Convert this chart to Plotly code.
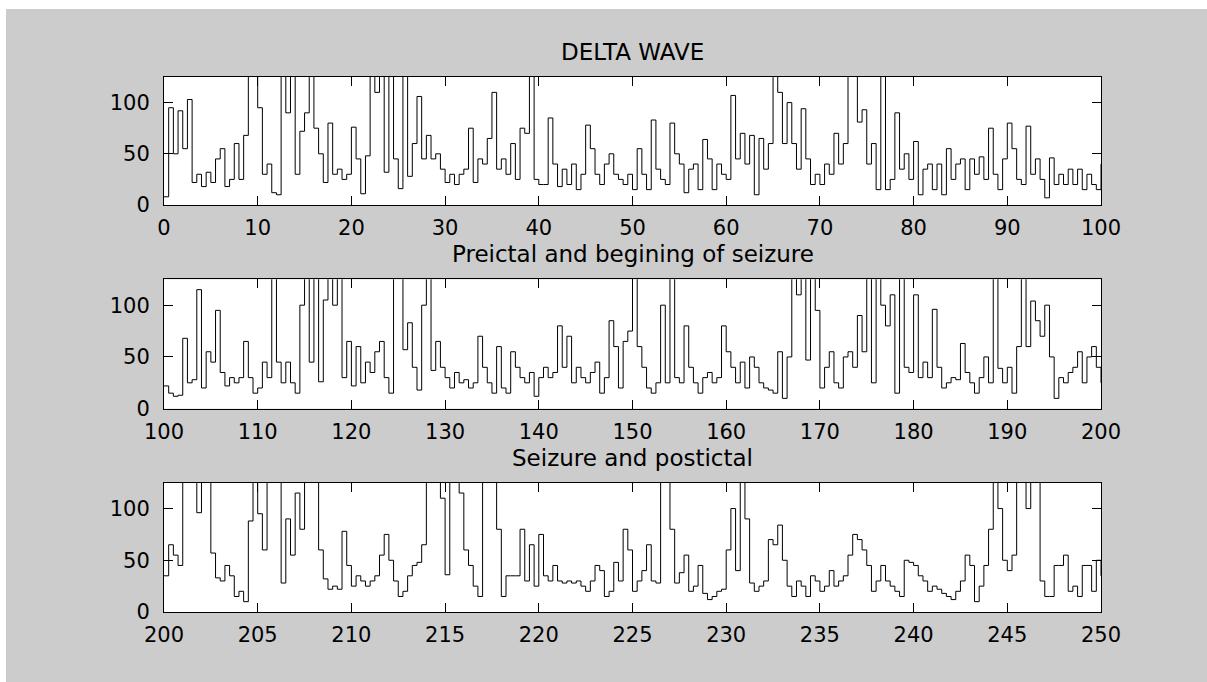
import numpy as np
import plotly.graph_objects as go
from plotly.subplots import make_subplots

# ---------------- data ----------------
titles = ["DELTA WAVE", "Preictal and begining of seizure", "Seizure and postictal"]

delta_start, delta_step = 0.0, 0.5
delta_values = [
    8, 95, 50, 92, 55, 103, 22, 30, 18, 32,
    22, 45, 55, 18, 25, 60, 25, 68, 130, 130,
    95, 30, 40, 12, 10, 130, 90, 130, 30, 72,
    90, 130, 75, 50, 22, 80, 30, 35, 25, 30,
    76, 45, 11, 48, 130, 110, 130, 32, 130, 45,
    16, 130, 28, 60, 106, 45, 68, 45, 50, 35,
    22, 30, 20, 30, 35, 75, 22, 45, 40, 65,
    110, 35, 45, 30, 60, 25, 75, 70, 130, 25,
    20, 20, 85, 40, 18, 35, 20, 40, 15, 30,
    78, 55, 30, 20, 40, 50, 30, 25, 20, 30,
    15, 55, 30, 15, 83, 35, 25, 20, 80, 50,
    40, 12, 35, 40, 15, 64, 45, 15, 40, 30,
    25, 107, 45, 70, 40, 68, 10, 65, 35, 60,
    130, 110, 60, 100, 60, 35, 94, 45, 20, 30,
    20, 40, 30, 70, 40, 60, 130, 130, 81, 93,
    40, 60, 15, 130, 15, 25, 90, 35, 50, 25,
    62, 10, 35, 40, 15, 40, 10, 55, 25, 40,
    45, 15, 45, 30, 47, 25, 75, 30, 15, 45,
    80, 55, 25, 20, 77, 30, 45, 25, 7, 46,
    20, 30, 20, 35, 20, 35, 15, 30, 20, 15,
    40,
]

preictal_start, preictal_step = 100.0, 0.5
preictal_values = [
    22, 15, 12, 13, 68, 25, 28, 115, 20, 55,
    45, 95, 35, 22, 30, 25, 30, 65, 30, 15,
    20, 45, 30, 130, 45, 25, 45, 25, 15, 100,
    130, 45, 130, 26, 105, 130, 100, 130, 30, 65,
    22, 60, 25, 45, 35, 55, 65, 30, 15, 130,
    130, 57, 83, 40, 18, 100, 130, 37, 65, 40,
    30, 20, 35, 25, 28, 20, 25, 70, 40, 25,
    15, 60, 20, 15, 55, 40, 30, 25, 35, 12,
    30, 40, 30, 35, 80, 40, 70, 25, 40, 30,
    25, 35, 45, 15, 30, 85, 60, 20, 65, 75,
    130, 60, 40, 20, 15, 25, 100, 25, 130, 30,
    25, 80, 40, 25, 15, 30, 35, 25, 30, 80,
    55, 40, 25, 45, 20, 50, 40, 25, 20, 18,
    15, 55, 10, 50, 130, 110, 130, 47, 130, 95,
    20, 40, 55, 25, 20, 50, 55, 40, 90, 55,
    130, 25, 130, 100, 80, 110, 15, 130, 40, 35,
    110, 30, 45, 30, 96, 40, 20, 25, 30, 28,
    63, 35, 25, 15, 30, 50, 25, 130, 39, 25,
    40, 15, 60, 130, 60, 104, 85, 70, 100, 50,
    10, 30, 25, 35, 40, 55, 25, 50, 60, 40,
    25,
]

seizure_start, seizure_step = 200.0, 0.25
seizure_values = [
    35, 65, 55, 45, 130, 130, 130, 96, 130, 130,
    57, 33, 30, 45, 35, 15, 20, 10, 88, 130,
    95, 60, 130, 130, 130, 28, 90, 55, 115, 80,
    130, 130, 130, 60, 32, 22, 25, 22, 78, 45,
    25, 35, 30, 25, 30, 35, 55, 75, 50, 30,
    15, 20, 35, 45, 48, 65, 130, 130, 130, 110,
    36, 130, 130, 115, 60, 45, 25, 15, 130, 130,
    130, 80, 15, 35, 35, 35, 80, 30, 65, 25,
    75, 35, 30, 45, 30, 28, 30, 28, 30, 25,
    20, 30, 45, 40, 15, 20, 48, 30, 80, 60,
    20, 30, 40, 65, 30, 28, 130, 130, 80, 28,
    38, 55, 20, 25, 45, 18, 12, 15, 20, 22,
    60, 100, 40, 130, 90, 28, 20, 25, 30, 70,
    65, 84, 50, 25, 15, 30, 25, 15, 35, 30,
    20, 25, 40, 25, 30, 35, 55, 75, 70, 60,
    45, 20, 30, 45, 30, 25, 20, 15, 50, 48,
    45, 35, 30, 20, 25, 22, 18, 15, 12, 20,
    30, 55, 45, 10, 25, 45, 80, 130, 100, 50,
    40, 55, 130, 130, 100, 130, 130, 30, 15, 15,
    45, 45, 55, 20, 25, 15, 45, 45, 20, 50,
    35,
]

x_ranges = [[0, 100], [100, 200], [200, 250]]
x_dticks = [10, 10, 5]
y_range = [0, 125]
y_ticks = [0, 50, 100]

series = [
    (delta_start, delta_step, delta_values),
    (preictal_start, preictal_step, preictal_values),
    (seizure_start, seizure_step, seizure_values),
]

# ---------------- figure ----------------
W, H = 1207, 682
ML, MR, MT, MB = 164, 106, 77, 70
plot_h = H - MT - MB

def fy(py):
    return (H - MB - py) / plot_h

def fx(px):
    return (px - ML) / (W - ML - MR)

panel_px = [(76.7, 205.0), (279.3, 408.7), (482.7, 612.0)]
title_py = [51.5, 254.0, 457.7]

fig = make_subplots(rows=3, cols=1)

for i, (t0, dt, vals) in enumerate(series):
    xs = t0 + dt * np.arange(len(vals))
    fig.add_trace(
        go.Scatter(x=xs, y=vals, mode="lines", line=dict(color="black", width=1, shape="hv"),
                   showlegend=False, hoverinfo="skip"),
        row=i + 1, col=1,
    )

tick_font = dict(family="DejaVu Sans", size=21, color="black")
for i in range(3):
    top_px, bot_px = panel_px[i]
    xa = "xaxis" if i == 0 else f"xaxis{i+1}"
    ya = "yaxis" if i == 0 else f"yaxis{i+1}"
    fig.layout[xa].update(
        domain=[0, 1], range=x_ranges[i], dtick=x_dticks[i], tick0=x_ranges[i][0],
        showline=True, linecolor="black", linewidth=1, mirror="ticks",
        ticks="inside", ticklen=9, tickcolor="black", tickwidth=1,
        showgrid=False, zeroline=False, tickfont=tick_font, ticklabelstandoff=4,
    )
    fig.layout[ya].update(
        domain=[fy(bot_px), min(1.0, fy(top_px))], range=y_range, tickvals=y_ticks,
        showline=True, linecolor="black", linewidth=1, mirror="ticks",
        ticks="inside", ticklen=9, tickcolor="black", tickwidth=1,
        showgrid=False, zeroline=False, tickfont=tick_font, ticklabelstandoff=9,
    )
    fig.add_annotation(
        text=titles[i], xref="paper", yref="paper", x=0.5, y=fy(title_py[i]),
        xanchor="center", yanchor="middle", showarrow=False,
        font=dict(family="DejaVu Sans", size=23, color="black"),
    )

# white strips at top and left edge of the picture
fig.add_shape(type="rect", xref="paper", yref="paper", x0=fx(0), x1=fx(W), y0=fy(9), y1=fy(0),
              fillcolor="white", line=dict(width=0), layer="below")
fig.add_shape(type="rect", xref="paper", yref="paper", x0=fx(0), x1=fx(6), y0=fy(H), y1=fy(0),
              fillcolor="white", line=dict(width=0), layer="below")

fig.update_layout(
    width=W, height=H, margin=dict(l=ML, r=MR, t=MT, b=MB, pad=0),
    paper_bgcolor="#cccccc", plot_bgcolor="white",
    font=dict(family="DejaVu Sans", color="black"),
)

fig.write_html("out.html")
